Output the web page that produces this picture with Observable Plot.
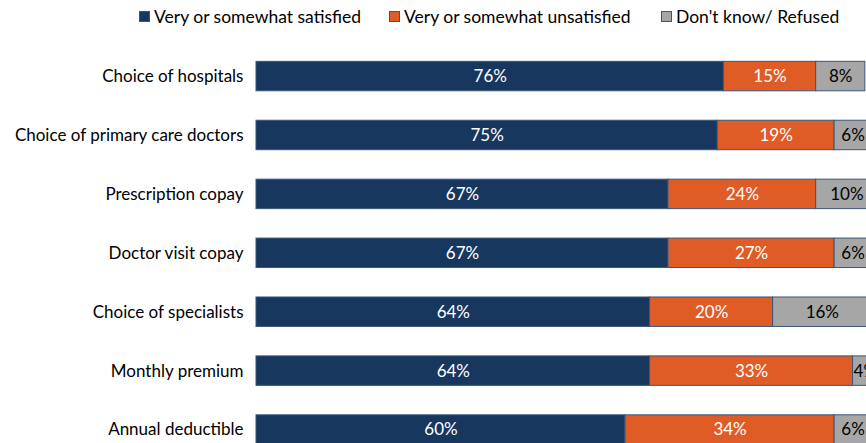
<!DOCTYPE html>
<html>
<head>
<meta charset="utf-8">
<script src="https://cdn.jsdelivr.net/npm/d3@7"></script>
<script src="https://cdn.jsdelivr.net/npm/@observablehq/plot@0.6"></script>
<style>
  html, body { margin: 0; padding: 0; background: #fff; overflow: hidden; width: 866px; height: 443px; }
  body { font-family: Lato, "Open Sans", sans-serif; }
  #legend { position: relative; height: 36px; font-size: 17.5px; color: #000; }
  .item { position: absolute; top: 6px; display: flex; align-items: center; white-space: nowrap; }
  .sw { width: 11px; height: 11px; margin-right: 4px; box-sizing: border-box; border: 1px solid #3a5678; }
</style>
</head>
<body>
<div id="legend"></div>
<div id="chart"></div>
<script>
const categories = ["Choice of hospitals", "Choice of primary care doctors", "Prescription copay", "Doctor visit copay", "Choice of specialists", "Monthly premium", "Annual deductible"];
const seriesNames = ["Very or somewhat satisfied", "Very or somewhat unsatisfied", "Don't know/ Refused"];
const satisfied = [76, 75, 67, 67, 64, 64, 60];
const unsatisfied = [15, 19, 24, 27, 20, 33, 34];
const dontKnow = [8, 6, 10, 6, 16, 4, 6];
const colors = ["#17375e", "#e05c27", "#a6a6a6"];
const labelColors = ["#ffffff", "#ffffff", "#000000"];

const seriesValues = [satisfied, unsatisfied, dontKnow];
const data = [];
categories.forEach((c, i) => {
  seriesNames.forEach((s, j) => {
    data.push({category: c, series: s, value: seriesValues[j][i], labelColor: labelColors[j]});
  });
});

// legend
const legend = document.getElementById("legend");
const legendLeft = [139, 389, 661];
seriesNames.forEach((s, j) => {
  const it = document.createElement("div");
  it.className = "item";
  it.style.left = legendLeft[j] + "px";
  const sw = document.createElement("span");
  sw.className = "sw";
  sw.style.background = colors[j];
  const tx = document.createElement("span");
  tx.textContent = s;
  it.appendChild(sw);
  it.appendChild(tx);
  legend.appendChild(it);
});

const chart = Plot.plot({
  width: 866,
  height: 423,
  marginLeft: 256,
  marginRight: 0,
  marginTop: 10.6,
  marginBottom: 0,
  style: {fontFamily: "Lato, 'Open Sans', sans-serif", fontSize: "17px", color: "#000", overflow: "visible"},
  x: {domain: [0, 100], range: [256, 871], axis: null},
  y: {domain: categories, paddingInner: 0.5, paddingOuter: 0.25, round: false, label: null},
  color: {domain: seriesNames, range: colors},
  marks: [
    Plot.barX(data, Plot.stackX({x: "value", y: "category", fill: "series", stroke: "#3a5678", strokeWidth: 1, order: null})),
    Plot.text(data, Plot.stackX({x: "value", y: "category", text: d => d.value + "%", fill: "labelColor", fontSize: 17, order: null})),
    Plot.axisY({tickSize: 0, tickPadding: 13, label: null, fontSize: 17})
  ]
});
document.getElementById("chart").appendChild(chart);
</script>
</body>
</html>
